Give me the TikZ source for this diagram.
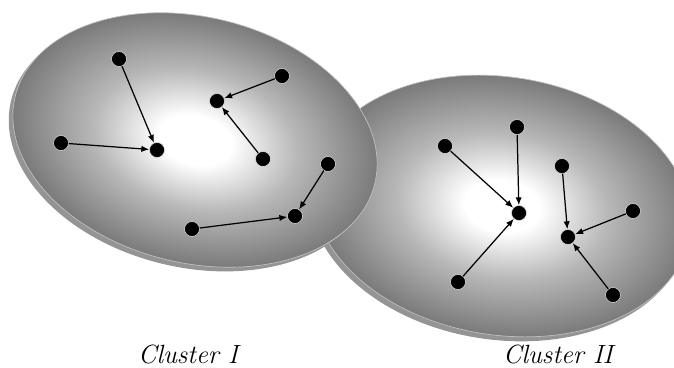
\documentclass[tikz,border=0pt]{standalone}
\usetikzlibrary{arrows.meta}
\pgfdeclareradialshading{discshade}{\pgfpoint{0bp}{0bp}}{color(0bp)=(white); color(5bp)=(white); color(14bp)=(black!28); color(25bp)=(black!52); color(50bp)=(black!52)}

\begin{document}
\begin{tikzpicture}[x=0.02cm, y=-0.02cm, >={Latex[length=4.5pt,width=3.6pt]}, every node/.style={font=\fontsize{15}{18}\selectfont\itshape}]
\tikzset{dot/.style={circle, fill=black, draw=white!75!gray, line width=0.3pt, inner sep=0pt, minimum size=3mm},
  rim/.style={fill=black!42},
  disc/.style={shading=discshade, draw=black!25, line width=0.4pt},
  link/.style={->, line width=0.7pt}}
\useasboundingbox (0,0) rectangle (674,368);
% cluster II disc, behind
\begin{scope}[transform canvas={shift={(502,206)}, rotate=-9}]
\fill[rim] (-3,5) ellipse [x radius=190, y radius=129];
\shade[disc] (0,0) ellipse [x radius=190, y radius=129];
\end{scope}
% cluster I disc
\begin{scope}[transform canvas={shift={(195,140)}, rotate=-13.6}]
\fill[rim] (-3,5) ellipse [x radius=185, y radius=123];
\shade[disc] (0,0) ellipse [x radius=185, y radius=123];
\end{scope}
% cluster I
\node[dot] (k1) at (157,150) {};
\node[dot] (k2) at (217,101) {};
\node[dot] (k3) at (295,216) {};
\node[dot] (p1) at (119,59) {};
\node[dot] (p2) at (61,143) {};
\node[dot] (p3) at (282,76) {};
\node[dot] (p4) at (263,159) {};
\node[dot] (p5) at (328,164) {};
\node[dot] (p6) at (192,229) {};
\draw[link] (p1) -- (k1);
\draw[link] (p2) -- (k1);
\draw[link] (p3) -- (k2);
\draw[link] (p4) -- (k2);
\draw[link] (p5) -- (k3);
\draw[link] (p6) -- (k3);
% cluster II
\node[dot] (k4) at (519,213) {};
\node[dot] (k5) at (568,237) {};
\node[dot] (q1) at (445,146) {};
\node[dot] (q2) at (517,127) {};
\node[dot] (q3) at (458,282) {};
\node[dot] (q4) at (562,166) {};
\node[dot] (q5) at (633,211) {};
\node[dot] (q6) at (613,295) {};
\draw[link] (q1) -- (k4);
\draw[link] (q2) -- (k4);
\draw[link] (q3) -- (k4);
\draw[link] (q4) -- (k5);
\draw[link] (q5) -- (k5);
\draw[link] (q6) -- (k5);
% labels
\node (lab1) at (188,355) {Cluster I};
\node (lab2) at (558,355) {Cluster II};
\end{tikzpicture}
\end{document}
